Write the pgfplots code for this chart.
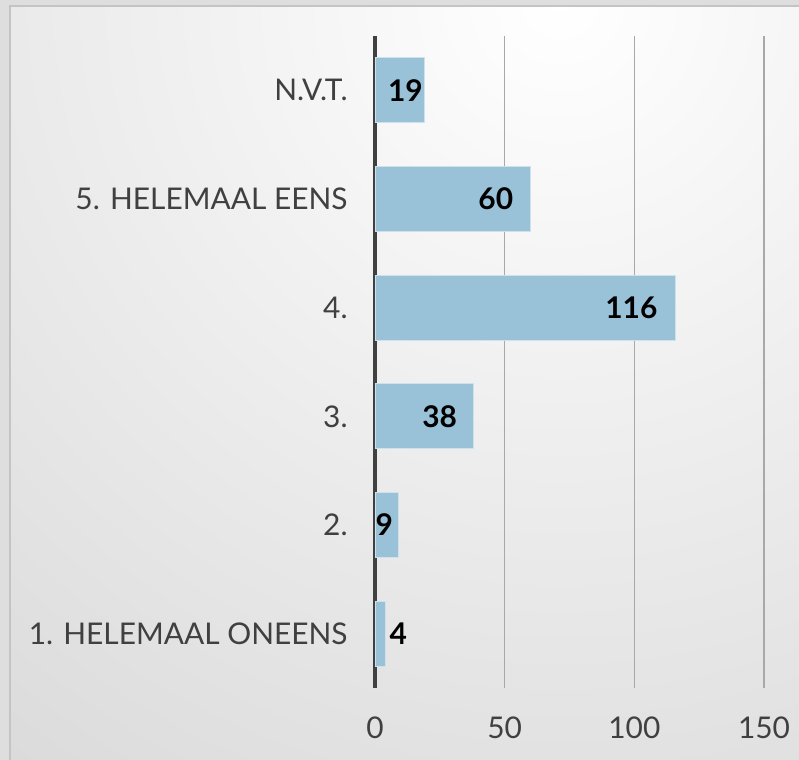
\documentclass[border=0pt]{standalone}
\usepackage{pgfplots}
\pgfplotsset{compat=1.18}
\usepackage{pgfplotstable}
\usepackage{fontspec}
\setmainfont{Lato}
\definecolor{barfill}{HTML}{99C2D9}
\definecolor{bardraw}{HTML}{CFE2EC}
\definecolor{labgray}{HTML}{404040}
\definecolor{framegray}{HTML}{DEDEDE}
\definecolor{edgegray}{HTML}{C4C4C4}
\definecolor{gridgray}{HTML}{A8A8A8}
\definecolor{outergray}{HTML}{B6B6B6}
\pgfplotstableread{
y v dx
0 4 22
1 9 -5
2 38 -16
3 116 -18
4 60 -17
5 19 -1
}\data
\begin{document}
\begin{tikzpicture}[x=1bp,y=1bp]
\useasboundingbox (0,0) rectangle (799,760);
\fill[framegray] (0,0) rectangle (799,760);
\begin{scope}
\clip (10,0) rectangle (799,754);
\shade[inner color=white, outer color=outergray] (560,760) circle (1900);
\end{scope}
\draw[edgegray, line width=1.5bp] (10,-5) -- (10,754) -- (805,754);
\begin{axis}[
  at={(375bp,72bp)}, anchor=south west,
  scale only axis, width=389bp, height=652bp,
  xmin=0, xmax=150, ymin=-0.5, ymax=5.5,
  xbar, bar width=65bp, bar shift=0pt,
  axis line style={draw=none},
  tick style={draw=none},
  xtick={50,100,150},
  extra x ticks={0},
  extra x tick style={major grid style={line width=3.5bp, color=labgray}},
  xmajorgrids,
  major grid style={line width=1.2bp, color=gridgray},
  ytick={0,1,2,3,4,5},
  yticklabels={1. HELEMAAL ONEENS, 2., 3., 4., 5. HELEMAAL EENS, N.V.T.},
  /pgf/number format/assume math mode=true,
  ticklabel style={font=\fontsize{30}{31}\selectfont, text=labgray},
  yticklabel style={anchor=east, inner sep=0pt, xshift=-23bp},
  xticklabel style={anchor=north, inner sep=0pt, yshift=-29bp},
  point meta=x,
  nodes near coords,
  visualization depends on={\thisrow{dx} \as \mydx},
  every node near coord/.append style={anchor=east, inner sep=0pt, xshift=\mydx bp, font=\fontsize{30}{31}\selectfont\bfseries, text=black},
]
\addplot[fill=barfill, draw=bardraw, line width=1bp] table[x=v, y=y] {\data};
\end{axis}
\end{tikzpicture}
\end{document}
